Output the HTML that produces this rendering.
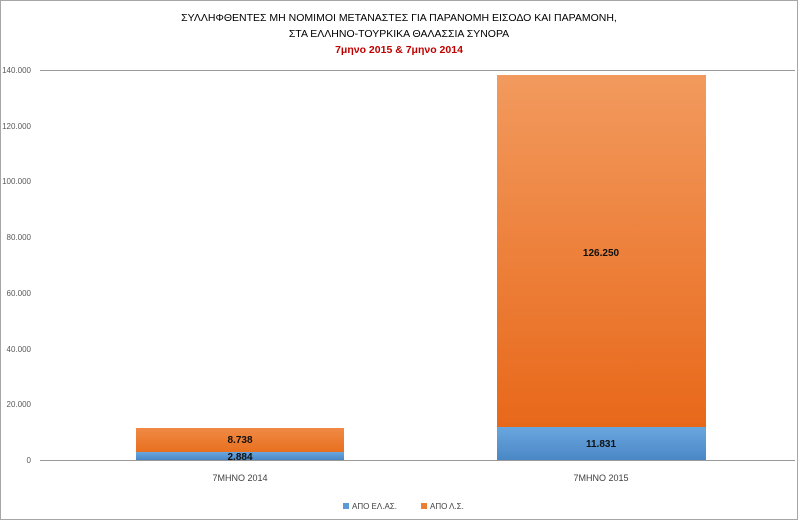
<!DOCTYPE html>
<html><head><meta charset="utf-8"><style>
body{margin:0;background:#fff;}
svg text{font-family:"Liberation Sans","DejaVu Sans",sans-serif;}
</style></head><body>
<svg width="799" height="523" xmlns="http://www.w3.org/2000/svg">
<defs>
<linearGradient id="o" x1="0" y1="0" x2="0" y2="1"><stop offset="0" stop-color="#f29a5e"/><stop offset="1" stop-color="#e8681a"/></linearGradient>
<linearGradient id="o2" x1="0" y1="0" x2="0" y2="1"><stop offset="0" stop-color="#f08a45"/><stop offset="1" stop-color="#e8701f"/></linearGradient>
<linearGradient id="b" x1="0" y1="0" x2="0" y2="1"><stop offset="0" stop-color="#6aa6de"/><stop offset="1" stop-color="#4a87c6"/></linearGradient>
</defs>
<rect x="0.5" y="0.5" width="797" height="519" fill="#fff" stroke="#a6a6a6"/>
<g text-anchor="middle" font-size="10.5">
<text x="399" y="21" fill="#000">ΣΥΛΛΗΦΘΕΝΤΕΣ ΜΗ ΝΟΜΙΜΟΙ ΜΕΤΑΝΑΣΤΕΣ ΓΙΑ ΠΑΡΑΝΟΜΗ ΕΙΣΟΔΟ ΚΑΙ ΠΑΡΑΜΟΝΗ,</text>
<text x="399" y="37" fill="#000">ΣΤΑ ΕΛΛΗΝΟ-ΤΟΥΡΚΙΚΑ ΘΑΛΑΣΣΙΑ ΣΥΝΟΡΑ</text>
<text x="399" y="53" fill="#c00000" font-weight="bold">7μηνο 2015 &amp; 7μηνο 2014</text>
</g>
<line x1="40" y1="70.5" x2="795" y2="70.5" stroke="#999"/>
<line x1="40" y1="460.5" x2="795" y2="460.5" stroke="#999"/>
<g text-anchor="end" font-size="8" fill="#595959">
<text x="31" y="73">140.000</text><text x="31" y="129">120.000</text><text x="31" y="184">100.000</text>
<text x="31" y="240">80.000</text><text x="31" y="296">60.000</text><text x="31" y="352">40.000</text>
<text x="31" y="407">20.000</text><text x="31" y="463">0</text>
</g>
<rect x="136" y="428" width="208" height="24" fill="url(#o2)"/>
<rect x="136" y="452" width="208" height="8" fill="url(#b)"/>
<rect x="497" y="75" width="209" height="352" fill="url(#o)"/>
<rect x="497" y="427" width="209" height="33" fill="url(#b)"/>
<g text-anchor="middle" font-size="10" font-weight="bold" fill="#111">
<text x="240" y="443">8.738</text><text x="240" y="460">2.884</text>
<text x="601" y="256">126.250</text><text x="601" y="447">11.831</text>
</g>
<g text-anchor="middle" font-size="9" fill="#404040">
<text x="240" y="481">7ΜΗΝΟ 2014</text><text x="601" y="481">7ΜΗΝΟ 2015</text>
</g>
<rect x="343" y="503" width="6" height="6" fill="#5b9bd5"/>
<text x="352" y="509" font-size="8" fill="#404040">ΑΠΟ ΕΛ.ΑΣ.</text>
<rect x="421" y="503" width="6" height="6" fill="#ed7d31"/>
<text x="430" y="509" font-size="8" fill="#404040">ΑΠΟ Λ.Σ.</text>
</svg>
</body></html>
